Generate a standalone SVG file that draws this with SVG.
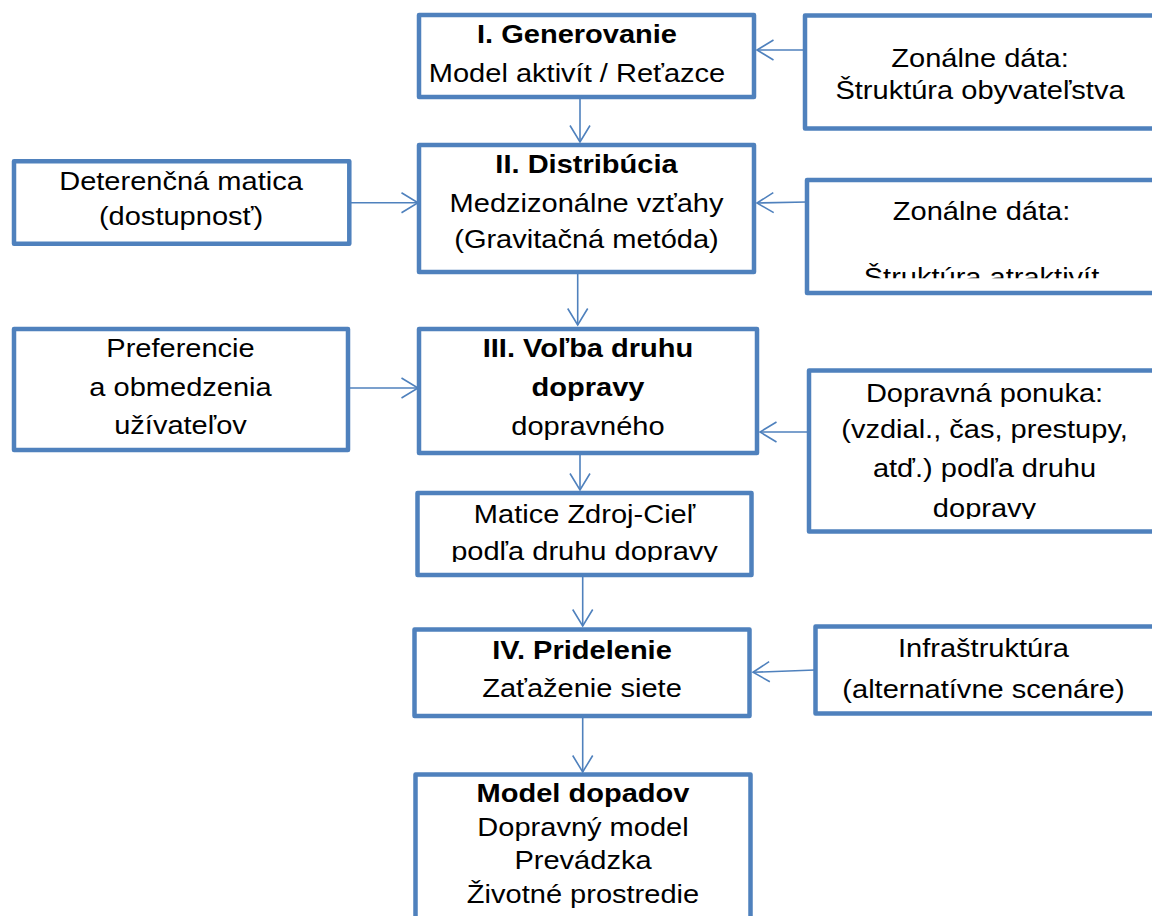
<svg xmlns="http://www.w3.org/2000/svg" width="1152" height="916" viewBox="0 0 1152 916">
<style>
.box{fill:#fff;stroke:#4F81BD;stroke-width:4.5;stroke-linejoin:round}
.c{fill:none;stroke:#4F81BD;stroke-width:1.6}
text{font-family:"Liberation Sans",Arial,sans-serif;font-size:25.7px;fill:#000;text-anchor:middle}
.b{font-weight:bold}
</style>
<defs>
<marker id="arr" markerWidth="20" markerHeight="24" refX="18" refY="12" orient="auto" markerUnits="userSpaceOnUse" viewBox="0 0 20 24">
<path d="M1.5,2 L18,12 L1.5,22" fill="none" stroke="#4F81BD" stroke-width="1.6"/>
</marker>
<clipPath id="clipZ2"><rect x="810" y="182" width="350" height="96.3"/></clipPath>
<clipPath id="clipMat"><rect x="420" y="495" width="330" height="67"/></clipPath>
<clipPath id="clipDop"><rect x="812" y="373" width="350" height="146"/></clipPath>
</defs>
<rect width="1152" height="916" fill="#fff"/>

<g id="connectors">
<line class="c" x1="580" y1="89" x2="580" y2="142" marker-end="url(#arr)"/>
<line class="c" x1="577.7" y1="272" x2="577.7" y2="325" marker-end="url(#arr)"/>
<line class="c" x1="580" y1="438" x2="580" y2="490" marker-end="url(#arr)"/>
<line class="c" x1="582.7" y1="575" x2="582.7" y2="626" marker-end="url(#arr)"/>
<line class="c" x1="582.7" y1="717" x2="582.7" y2="772" marker-end="url(#arr)"/>
<line class="c" x1="349" y1="202.7" x2="418" y2="202.7" marker-end="url(#arr)"/>
<line class="c" x1="348" y1="388" x2="418" y2="388" marker-end="url(#arr)"/>
<line class="c" x1="805" y1="50" x2="757" y2="50" marker-end="url(#arr)"/>
<line class="c" x1="807" y1="202" x2="757" y2="203" marker-end="url(#arr)"/>
<line class="c" x1="809" y1="432" x2="760" y2="432" marker-end="url(#arr)"/>
<line class="c" x1="815" y1="670" x2="753" y2="672.3" marker-end="url(#arr)"/>
</g>

<g id="n1">
<rect class="box" x="419" y="15" width="335" height="82"/>
<g transform="translate(577,0) scale(1.13,1)">
<text class="b" x="0" y="42.7">I. Generovanie</text>
<text x="0" y="81.7">Model aktivít / Reťazce</text>
</g>
</g>

<g id="n2">
<rect class="box" x="419" y="145" width="335" height="127"/>
<g transform="translate(586.5,0) scale(1.13,1)">
<text class="b" x="0" y="172.7">II. Distribúcia</text>
<text x="0" y="211.7">Medzizonálne vzťahy</text>
<text x="0" y="248.3">(Gravitačná metóda)</text>
</g>
</g>

<g id="n3">
<rect class="box" x="419" y="329" width="338" height="124"/>
<g transform="translate(588,0) scale(1.13,1)">
<text class="b" x="0" y="357.5">III. Voľba druhu</text>
<text class="b" x="0" y="396">dopravy</text>
<text x="0" y="435">dopravného</text>
</g>
</g>

<g id="n-matice">
<rect class="box" x="417.5" y="493" width="334" height="82"/>
<g clip-path="url(#clipMat)">
<g transform="translate(584.5,0) scale(1.13,1)">
<text x="0" y="523">Matice Zdroj-Cieľ</text>
<text x="0" y="560.5">podľa druhu dopravy</text>
</g>
</g>
</g>

<g id="n4">
<rect class="box" x="414.5" y="629.5" width="335" height="86.5"/>
<g transform="translate(582,0) scale(1.13,1)">
<text class="b" x="0" y="659">IV. Pridelenie</text>
<text x="0" y="697">Zaťaženie siete</text>
</g>
</g>

<g id="n-dopady">
<rect class="box" x="415.5" y="774.5" width="335" height="170"/>
<g transform="translate(583,0) scale(1.13,1)">
<text class="b" x="0" y="802">Model dopadov</text>
<text x="0" y="835.7">Dopravný model</text>
<text x="0" y="869.3">Prevádzka</text>
<text x="0" y="903.3">Životné prostredie</text>
</g>
</g>

<g id="n-deterencna">
<rect class="box" x="14" y="161.3" width="335.3" height="82.4"/>
<g transform="translate(181,0) scale(1.13,1)">
<text x="0" y="190">Deterenčná matica</text>
<text x="0" y="225.5">(dostupnosť)</text>
</g>
</g>

<g id="n-preferencie">
<rect class="box" x="14" y="329" width="334" height="121"/>
<g transform="translate(180.5,0) scale(1.13,1)">
<text x="0" y="357">Preferencie</text>
<text x="0" y="396">a obmedzenia</text>
<text x="0" y="434">užívateľov</text>
</g>
</g>

<g id="n-zonalne1">
<rect class="box" x="805" y="15.5" width="360" height="113"/>
<g transform="translate(980,0) scale(1.13,1)">
<text x="0" y="66.7">Zonálne dáta:</text>
<text x="0" y="99.3">Štruktúra obyvateľstva</text>
</g>
</g>

<g id="n-zonalne2">
<rect class="box" x="807" y="180" width="360" height="113"/>
<g clip-path="url(#clipZ2)">
<g transform="translate(981.5,0) scale(1.13,1)">
<text x="0" y="220">Zonálne dáta:</text>
<text x="0" y="286.5">Štruktúra atraktivít</text>
</g>
</g>
</g>

<g id="n-ponuka">
<rect class="box" x="809" y="370.5" width="360" height="161"/>
<g clip-path="url(#clipDop)">
<g transform="translate(984.5,0) scale(1.13,1)">
<text x="0" y="401.7">Dopravná ponuka:</text>
<text x="0" y="438.3">(vzdial., čas, prestupy,</text>
<text x="0" y="476.7">atď.) podľa druhu</text>
<text x="0" y="516.7">dopravy</text>
</g>
</g>
</g>

<g id="n-infra">
<rect class="box" x="815.5" y="626.5" width="360" height="87"/>
<g transform="translate(983.5,0) scale(1.13,1)">
<text x="0" y="657">Infraštruktúra</text>
<text x="0" y="698">(alternatívne scenáre)</text>
</g>
</g>
</svg>
